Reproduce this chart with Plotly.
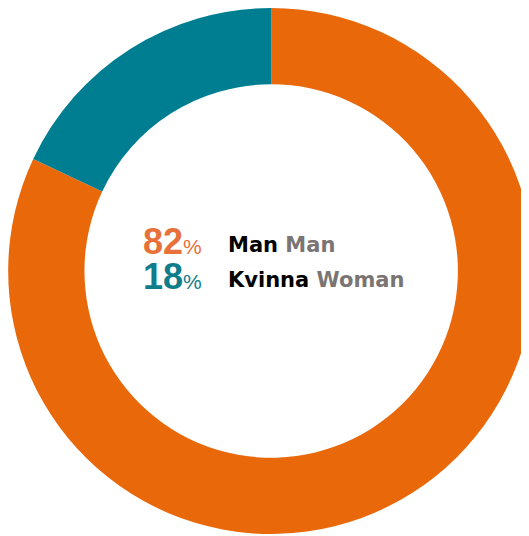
import plotly.graph_objects as go

labels_sv = ["Man", "Kvinna"]
labels_en = ["Man", "Woman"]
shares = [82, 18]
colors = ["#E9680A", "#007E91"]
text_colors = ["#E8703A", "#0F7D8C"]

W, H = 529, 536

fig = go.Figure(go.Pie(
    labels=labels_sv,
    values=shares,
    hole=0.71,
    sort=False,
    direction="clockwise",
    rotation=0,
    marker=dict(colors=colors, line=dict(width=0)),
    textinfo="none",
    hoverinfo="label+percent",
    domain=dict(x=[0, 0.995], y=[0.0187, 1]),
))

# centre legend: one block for the numbers, one for the labels
# (base font 27 -> line spacing 35px)
num_lines = [
    f"<span style='font-size:36px;color:{text_colors[i]}'><b>{shares[i]}</b></span>"
    f"<span style='font-size:21px;color:{text_colors[i]}'>%</span>"
    for i in range(len(shares))
]
lab_lines = [
    f"<span style='font-size:21px'><b>{labels_sv[i]} "
    f"<span style='color:#7A7472'>{labels_en[i]}</span></b></span>"
    for i in range(len(shares))
]

fig.add_annotation(
    x=196 / W, y=1 - 251 / H, xref="paper", yref="paper",
    xanchor="right", yanchor="middle", align="right", showarrow=False,
    text="<br>".join(num_lines),
    font=dict(family="Liberation Sans, Arial", size=27, color="#000000"),
)
fig.add_annotation(
    x=218 / W, y=1 - 254 / H, xref="paper", yref="paper",
    xanchor="left", yanchor="middle", align="left", showarrow=False,
    text="<br>".join(lab_lines),
    font=dict(family="DejaVu Sans", size=27, color="#000000"),
)

fig.update_layout(
    width=W, height=H,
    margin=dict(l=0, r=0, t=0, b=0),
    showlegend=False,
    paper_bgcolor="white",
    plot_bgcolor="white",
)

fig.write_html("out.html")
